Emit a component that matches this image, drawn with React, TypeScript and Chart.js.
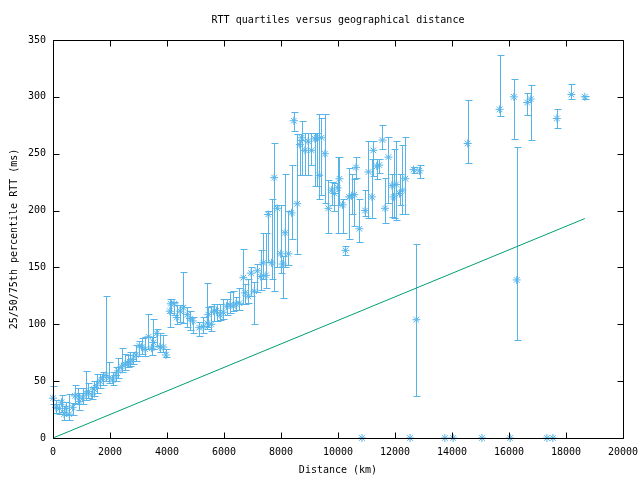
import React, { useEffect, useRef } from "react";
import { Chart, registerables } from "chart.js";

Chart.register(...registerables);

// Distance (km) of each measured group
const distanceKm = [
  0, 105, 220, 300, 390, 456, 570, 690, 770, 890, 920, 1040, 1160, 1240, 1360, 1440, 1530, 1650, 1740, 1860,
  1980, 2090, 2210, 2290, 2410, 2530, 2620, 2700, 2800, 2910, 3030, 3110, 3230, 3350, 3460, 3520, 3640, 3750, 3870, 3960,
  4100, 4130, 4250, 4340, 4460, 4570, 4710, 4810, 4900, 5130, 5270, 5410, 5450, 5560, 5640, 5740, 5860, 5970, 6090, 6210,
  6330, 6420, 6540, 6680, 6740, 6850, 6950, 7060, 7170, 7290, 7380, 7470, 7550, 7670, 7760, 7870, 7990, 8060, 8140, 8260,
  8370, 8450, 8570, 8660, 8720, 8840, 8950, 9070, 9190, 9250, 9340, 9420, 9540, 9660, 9780, 9870, 9990, 10050, 10160, 10260,
  10390, 10480, 10570, 10630, 10750, 10950, 11070, 11190, 11240, 11360, 11450, 11560, 11650, 11770, 11890, 11950, 12040, 12160, 12260, 12360,
  12650, 12860, 12750, 14550, 15670, 16170, 16270, 16640, 16760, 17680, 18190, 18660,
];

// Median RTT (ms)
const rttMedian = [
  35, 27, 26, 31.5, 21, 26, 21, 27, 37, 37, 32, 35, 39, 41, 38, 43, 46, 50, 53, 55,
  53, 51, 55, 59, 63, 65, 66, 67, 69, 73, 81, 80, 78, 89, 79, 84, 92, 80, 80, 73,
  111.5, 118, 118, 106, 111.5, 114.5, 108.5, 105, 103, 97, 98, 101, 108.5, 100, 111.5, 112, 108, 110.6, 116, 117,
  116, 118, 118.5, 141, 127.7, 124.7, 145, 129, 147, 142, 154, 143, 196.6, 154, 229, 202, 162, 153, 180.5, 162,
  198, 279, 206, 258, 264, 253, 261, 253, 263, 264, 231, 264, 250, 202, 218, 215, 220, 228, 205, 165,
  212, 213, 214, 238, 184, 200, 234, 212, 253, 239, 240, 262, 202, 247, 222, 212, 223, 215, 218, 228,
  236, 235, 104, 259, 289, 300, 139, 295, 298, 281, 302, 300,
];

// 25th percentile RTT (ms)
const rttQ25 = [
  30, 22, 21, 23, 16, 20, 16, 20, 30, 30, 25, 30, 33, 35, 34, 37, 40, 44, 47, 50,
  48, 47, 50, 53, 58, 60, 62, 63, 65, 68, 72, 74, 72, 78, 73, 78, 81, 76, 76, 71,
  98, 110, 108, 100, 102, 101, 98, 95, 92, 90, 92, 96, 98, 94, 103, 103, 104, 105, 108, 110,
  112, 113, 113, 118, 118, 119, 125, 100, 128, 130, 140, 132, 155, 140, 129, 150, 145, 123, 150, 152,
  175, 270, 162, 231, 231, 231, 231, 240, 222, 222, 210, 214, 207, 180.5, 204.5, 200, 180.5, 205, 180.5, 161,
  175, 196.6, 186, 229, 172, 195, 193.7, 193.7, 230, 228, 233, 254, 189, 207, 194.5, 193.7, 191.5, 205, 196.6, 196.6,
  233, 229, 37, 242, 283, 263, 86, 284, 262, 273, 298, 298,
];

// 75th percentile RTT (ms)
const rttQ75 = [
  46, 33, 30, 38, 28, 32, 39, 31, 47, 44, 40, 44, 59, 48, 45, 50, 56, 56, 58, 125,
  67, 58, 62, 70, 79, 74, 73, 76, 76, 82, 85, 88, 89, 109, 89, 105, 96, 92, 91, 78,
  122, 122, 120, 117, 117, 146, 115, 112, 106, 102, 106, 136, 115, 116, 118, 118, 118, 122, 122, 128,
  129, 124, 132, 166, 135, 140, 150, 137, 153, 165, 180, 180, 200, 210, 259.6, 205, 205, 160, 232, 200,
  240, 287, 267, 262, 279, 268, 268, 268, 268, 268, 284.5, 281, 285, 227, 225, 224, 247, 247, 210, 169,
  237, 232, 228, 247, 210, 218, 261, 245, 261, 245, 245, 275, 229, 265, 232, 254, 261, 232, 258, 265,
  238, 240, 171, 297, 337, 315.5, 256, 303, 310, 289, 311, 301,
];

// Groups whose RTT quartiles are all zero
const zeroDistanceKm = [10840, 12530, 13750, 14040, 15050, 16040, 17330, 17540];
const zeroRtt = [0, 0, 0, 0, 0, 0, 0, 0];

// Reference line (straight-line fibre RTT)
const fiberLineKm = [0, 18660];
const fiberLineMs = [0, 193];

const xTickValues = [0, 2000, 4000, 6000, 8000, 10000, 12000, 14000, 16000, 18000, 20000];
const yTickValues = [0, 50, 100, 150, 200, 250, 300, 350];

const BLUE = "#56B4E9";
const GREEN = "#009E73";
const FONT = "'DejaVu Sans Mono', 'Liberation Mono', monospace";

const errorBarPlugin = {
  id: "errorBars",
  beforeDatasetsDraw(chart: any) {
    const { ctx } = chart;
    const x = chart.scales.x;
    const y = chart.scales.y;
    ctx.save();
    ctx.strokeStyle = BLUE;
    ctx.lineWidth = 1;
    const cap = 3;
    distanceKm.forEach((d, i) => {
      const px = Math.round(x.getPixelForValue(d)) + 0.5;
      const top = Math.round(y.getPixelForValue(rttQ75[i])) + 0.5;
      const bot = Math.round(y.getPixelForValue(rttQ25[i])) + 0.5;
      ctx.beginPath();
      ctx.moveTo(px, top);
      ctx.lineTo(px, bot);
      ctx.moveTo(px - cap, top);
      ctx.lineTo(px + cap + 1, top);
      ctx.moveTo(px - cap, bot);
      ctx.lineTo(px + cap + 1, bot);
      ctx.stroke();
    });
    ctx.restore();
  },
};

const framePlugin = {
  id: "frame",
  afterDraw(chart: any) {
    const { ctx, chartArea } = chart;
    const x = chart.scales.x;
    const y = chart.scales.y;
    const l = Math.round(chartArea.left) + 0.5;
    const r = Math.round(chartArea.right) + 0.5;
    const t = Math.round(chartArea.top) + 0.5;
    const b = Math.round(chartArea.bottom) + 0.5;
    const tl = 6;
    ctx.save();
    ctx.strokeStyle = "#000";
    ctx.lineWidth = 1;
    ctx.beginPath();
    ctx.rect(l, t, r - l, b - t);
    xTickValues.forEach((v) => {
      const px = Math.round(x.getPixelForValue(v)) + 0.5;
      ctx.moveTo(px, b);
      ctx.lineTo(px, b - tl);
      ctx.moveTo(px, t);
      ctx.lineTo(px, t + tl);
    });
    yTickValues.forEach((v) => {
      const py = Math.round(y.getPixelForValue(v)) + 0.5;
      ctx.moveTo(l, py);
      ctx.lineTo(l + tl, py);
      ctx.moveTo(r, py);
      ctx.lineTo(r - tl, py);
    });
    ctx.stroke();
    ctx.restore();
  },
};

export default function App() {
  const canvasRef = useRef<HTMLCanvasElement | null>(null);

  useEffect(() => {
    if (!canvasRef.current) return;
    Chart.defaults.color = "#000";
    const pointStyle = {
      pointStyle: "star" as const,
      pointRadius: 4,
      pointHoverRadius: 4,
      pointBorderWidth: 1,
      borderColor: BLUE,
      backgroundColor: BLUE,
      showLine: false,
      clip: false as const,
    };
    const chart = new Chart(canvasRef.current, {
      type: "scatter",
      data: {
        datasets: [
          {
            label: "median",
            data: distanceKm.map((d, i) => ({ x: d, y: rttMedian[i] })),
            ...pointStyle,
          },
          {
            label: "zero",
            data: zeroDistanceKm.map((d, i) => ({ x: d, y: zeroRtt[i] })),
            ...pointStyle,
          },
          {
            label: "fibre",
            data: fiberLineKm.map((d, i) => ({ x: d, y: fiberLineMs[i] })),
            showLine: true,
            borderColor: GREEN,
            backgroundColor: GREEN,
            borderWidth: 1,
            pointRadius: 0,
            pointHoverRadius: 0,
          },
        ],
      },
      options: {
        animation: false,
        responsive: false,
        devicePixelRatio: 1,
        events: [],
        layout: { padding: { left: 0, right: 17, top: 0, bottom: 0 } },
        plugins: {
          legend: { display: false },
          tooltip: { enabled: false },
          title: {
            display: true,
            fullSize: false,
            text: "RTT quartiles versus geographical distance",
            color: "#000",
            font: { family: FONT, size: 10, weight: "normal" },
            padding: { top: 14, bottom: 14 },
          },
        },
        scales: {
          x: {
            type: "linear",
            min: 0,
            max: 20000,
            afterFit: (s: any) => {
              s.height = 42;
              s.paddingLeft = 0;
              s.paddingRight = 0;
            },
            afterBuildTicks: (s: any) => {
              s.ticks = xTickValues.map((v) => ({ value: v }));
            },
            grid: { display: false, drawTicks: false, tickLength: 0 },
            border: { display: false },
            ticks: {
              color: "#000",
              padding: 8,
              maxRotation: 0,
              autoSkip: false,
              font: { family: FONT, size: 10 },
              callback: (v: any) => String(v),
            },
            title: {
              display: true,
              text: "Distance (km)",
              color: "#000",
              font: { family: FONT, size: 10 },
              padding: { top: 0, bottom: 4 },
            },
          },
          y: {
            type: "linear",
            min: 0,
            max: 350,
            afterFit: (s: any) => {
              s.width = 53;
              s.paddingTop = 0;
              s.paddingBottom = 0;
            },
            afterBuildTicks: (s: any) => {
              s.ticks = yTickValues.map((v) => ({ value: v }));
            },
            grid: { display: false, drawTicks: false, tickLength: 0 },
            border: { display: false },
            ticks: {
              color: "#000",
              padding: 7,
              autoSkip: false,
              font: { family: FONT, size: 10 },
              callback: (v: any) => String(v),
            },
            title: {
              display: true,
              text: "25/50/75th percentile RTT (ms)",
              color: "#000",
              font: { family: FONT, size: 10 },
              padding: { top: 8, bottom: 0 },
            },
          },
        },
      },
      plugins: [errorBarPlugin, framePlugin],
    });
    return () => chart.destroy();
  }, []);

  return (
    <div style={{ position: "absolute", left: 0, top: 0, width: 640, height: 480, background: "#fff" }}>
      <canvas ref={canvasRef} width={640} height={480} style={{ display: "block", width: 640, height: 480 }} />
    </div>
  );
}
